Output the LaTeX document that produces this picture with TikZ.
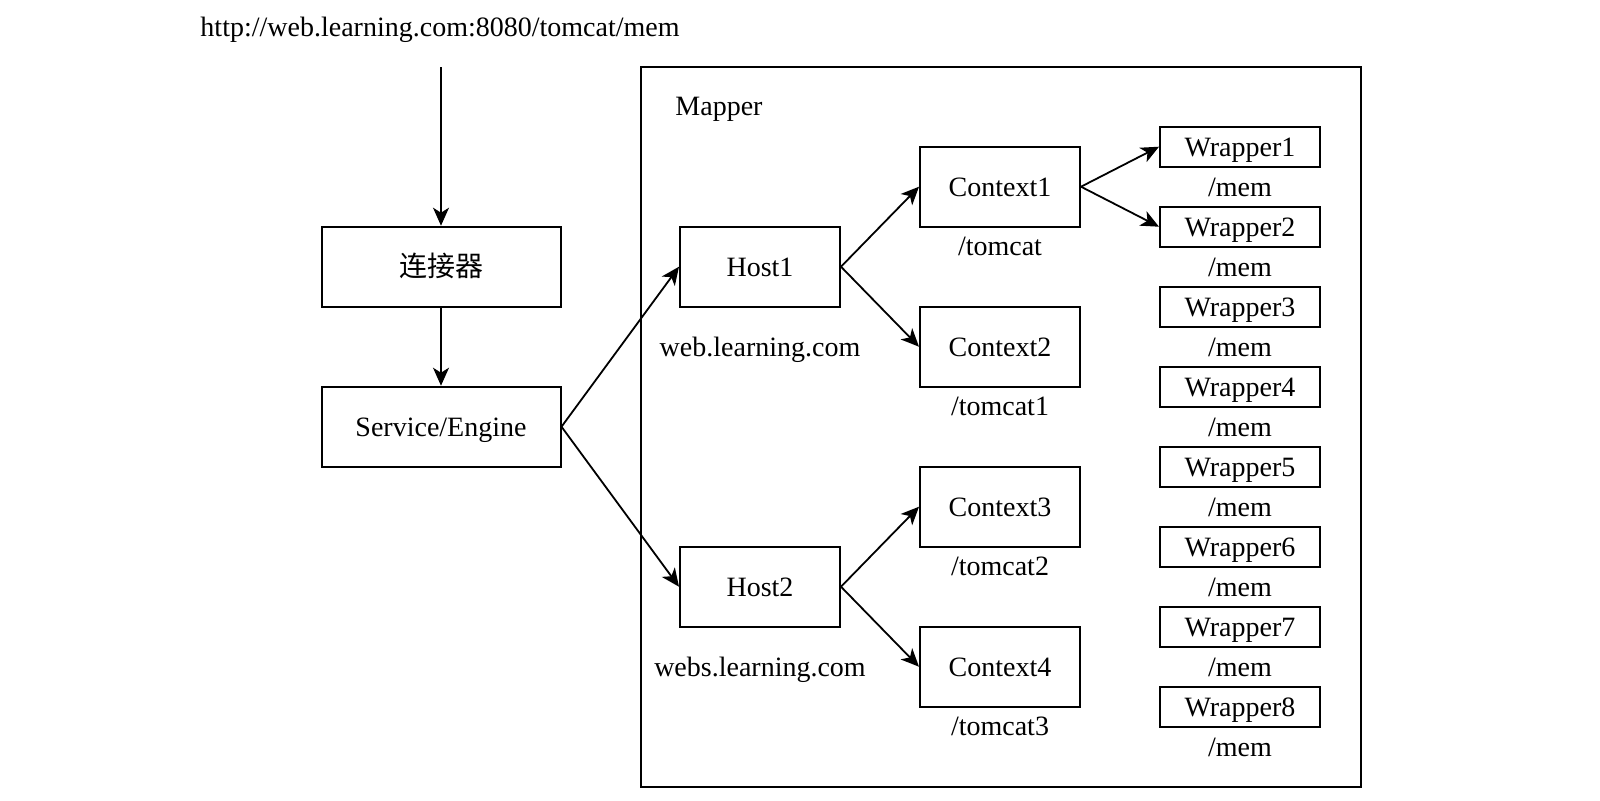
\documentclass[tikz,border=0pt]{standalone}
\usepackage{fontspec}
\setmainfont{Liberation Serif}
\newfontfamily\cjk{Noto Sans CJK SC}
\usetikzlibrary{arrows.meta}
\begin{document}
\begin{tikzpicture}[x=0.5pt,y=-0.5pt,
  every node/.style={font=\fontsize{14}{16}\selectfont, inner sep=0pt, text height=12.5pt, text depth=3pt},
  box/.style={draw, line width=1pt, minimum width=80pt, minimum height=40pt},
  wide/.style={box, minimum width=119.5pt},
  wbox/.style={draw, line width=1pt, minimum width=80pt, minimum height=20pt},
  lbl/.style={},
  conn/.style={line width=0.9pt, -{Stealth[length=9pt,width=8pt,inset=2.5pt]}}]
\useasboundingbox (0,0) rectangle (1600,800);
\node[lbl] (url) at (440,27) {http://web.learning.com:8080/tomcat/mem};
\coordinate (urlend) at (441,67);
\draw[line width=1pt] (640.8,67.3) rectangle (1361.2,786.7);
\node[lbl] (mapper) at (719,106) {Mapper};
\node[wide] (conn1) at (441,266.7) {\cjk 连接器};
\node[wide] (svc) at (441,426.7) {Service/Engine};
\node[box] (h1) at (760,266.7) {Host1};
\node[lbl] (h1l) at (760,347) {web.learning.com};
\node[box] (h2) at (760,586.7) {Host2};
\node[lbl] (h2l) at (760,667) {webs.learning.com};
\node[box] (c1) at (1000,186.7) {Context1};
\node[lbl] (c1l) at (1000,246) {/tomcat};
\node[box] (c2) at (1000,346.7) {Context2};
\node[lbl] (c2l) at (1000,406) {/tomcat1};
\node[box] (c3) at (1000,506.7) {Context3};
\node[lbl] (c3l) at (1000,566) {/tomcat2};
\node[box] (c4) at (1000,666.7) {Context4};
\node[lbl] (c4l) at (1000,726) {/tomcat3};
\foreach \k in {1,...,8}{
  \node[wbox] (w\k) at (1240,{146.7+80*(\k-1)}) {Wrapper\k};
  \node[lbl] (m\k) at (1240,{186.7+80*(\k-1)}) {/mem};
}
\draw[conn] (urlend) -- (conn1.north);
\draw[conn] (conn1.south) -- (svc.north);
\draw[conn] (svc.east) -- (h1.west);
\draw[conn] (svc.east) -- (h2.west);
\draw[conn] (h1.east) -- (c1.west);
\draw[conn] (h1.east) -- (c2.west);
\draw[conn] (h2.east) -- (c3.west);
\draw[conn] (h2.east) -- (c4.west);
\draw[conn] (c1.east) -- (w1.west);
\draw[conn] (c1.east) -- (w2.west);
\end{tikzpicture}
\end{document}
